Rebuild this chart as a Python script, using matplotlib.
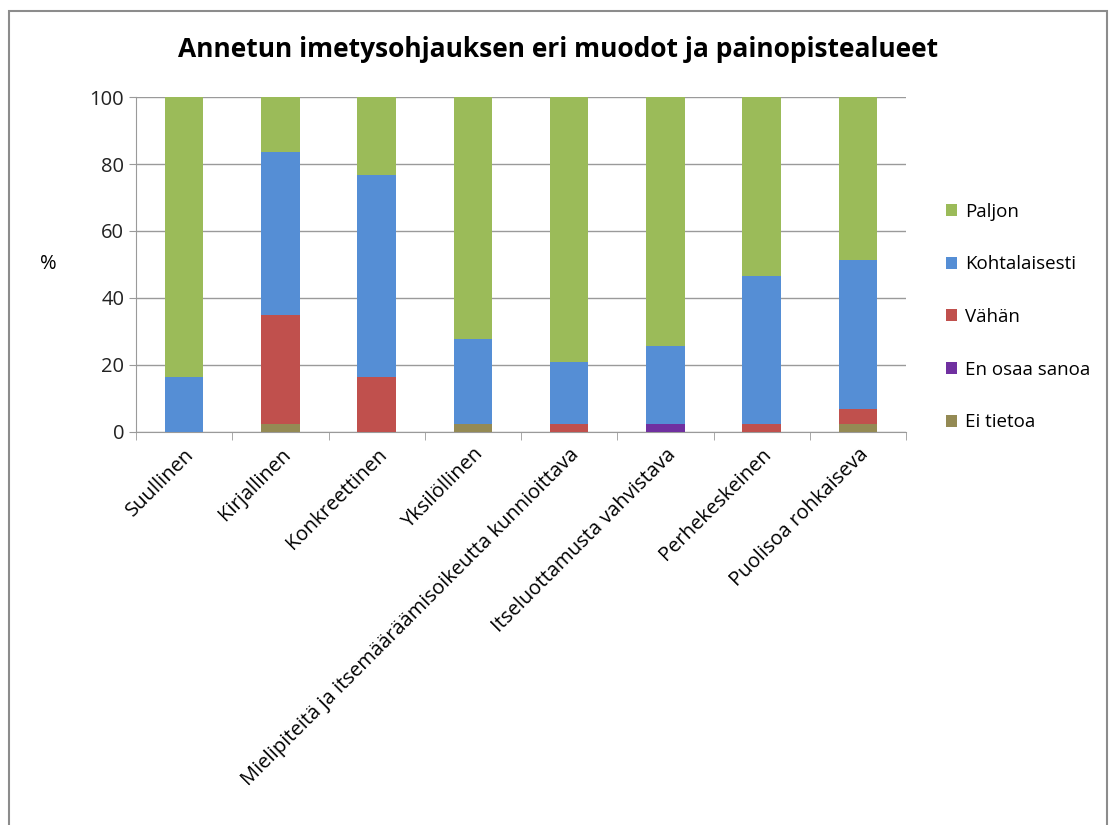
import numpy as np
import matplotlib.pyplot as plt
from matplotlib.patches import Rectangle

# data (percent, n=43)
categories = ["Suullinen", "Kirjallinen", "Konkreettinen", "Yksilöllinen",
              "Mielipiteitä ja itsemääräämisoikeutta kunnioittava",
              "Itseluottamusta vahvistava", "Perhekeskeinen", "Puolisoa rohkaiseva"]
ei_tietoa = [0, 2.3, 0, 2.3, 0, 0, 0, 2.3]
en_osaa = [0, 0, 0, 0, 0, 2.3, 0, 0]
vahan = [0, 32.6, 16.3, 0, 2.3, 0, 2.3, 4.7]
kohtalaisesti = [16.3, 48.8, 60.4, 25.6, 18.6, 23.3, 44.2, 44.2]
paljon = [83.7, 16.3, 23.3, 72.1, 79.1, 74.4, 53.5, 48.8]

series = [("Ei tietoa", ei_tietoa, "#948A54"),
          ("En osaa sanoa", en_osaa, "#7030A0"),
          ("Vähän", vahan, "#C0504D"),
          ("Kohtalaisesti", kohtalaisesti, "#558ED5"),
          ("Paljon", paljon, "#9BBB59")]

plt.rcParams['font.family'] = ['Open Sans', 'DejaVu Sans']

fig = plt.figure(figsize=(11.16, 8.25), dpi=100)
ax = fig.add_axes([0.1219, 0.4764, 0.690, 0.406])

x = np.arange(len(categories))
bottom = np.zeros(len(categories))
handles = {}
for name, vals, col in series:
    vals = np.array(vals)
    b = ax.bar(x, vals, 0.4, bottom=bottom, color=col, label=name, zorder=3)
    handles[name] = b
    bottom += vals

ax.set_xlim(-0.5, len(categories) - 0.5)
ax.set_ylim(0, 100)
ax.set_yticks(range(0, 101, 20))
ax.yaxis.grid(True, color="#9a9a9a", linewidth=1, zorder=0)
for s in ["top", "right"]:
    ax.spines[s].set_visible(False)
ax.spines["left"].set_color("#9a9a9a")
ax.spines["bottom"].set_color("#9a9a9a")
ax.tick_params(axis="y", length=5, color="#9a9a9a", labelsize=14.5, labelcolor="#222222")
ax.set_xticks(x)
ax.set_xticklabels(categories, rotation=45, ha="right", rotation_mode="anchor", fontsize=14.5)
ax.tick_params(axis="x", length=0, pad=9)
ax.set_xticks(np.arange(-0.5, len(categories)), minor=True)
ax.tick_params(axis="x", which="minor", length=6, color="#9a9a9a")

ax.set_ylabel("%", rotation=0, fontsize=14.5, labelpad=30, va="center")

fig.text(0.5, 0.94, "Annetun imetysohjauksen eri muodot ja painopistealueet",
         ha="center", va="center", fontsize=19, fontweight="bold")

order = ["Paljon", "Kohtalaisesti", "Vähän", "En osaa sanoa", "Ei tietoa"]
ax.legend([handles[n] for n in order], order, loc="upper left",
          bbox_to_anchor=(1.03, 0.735), frameon=False, fontsize=13.5,
          labelspacing=1.85, handlelength=0.6, handleheight=0.6, handletextpad=0.4)

fig.patches.append(Rectangle((0.008, -0.01), 0.984, 0.997, transform=fig.transFigure,
                             fill=False, edgecolor="#8c8c8c", linewidth=1.5))

fig.savefig("out.png", dpi=100)
